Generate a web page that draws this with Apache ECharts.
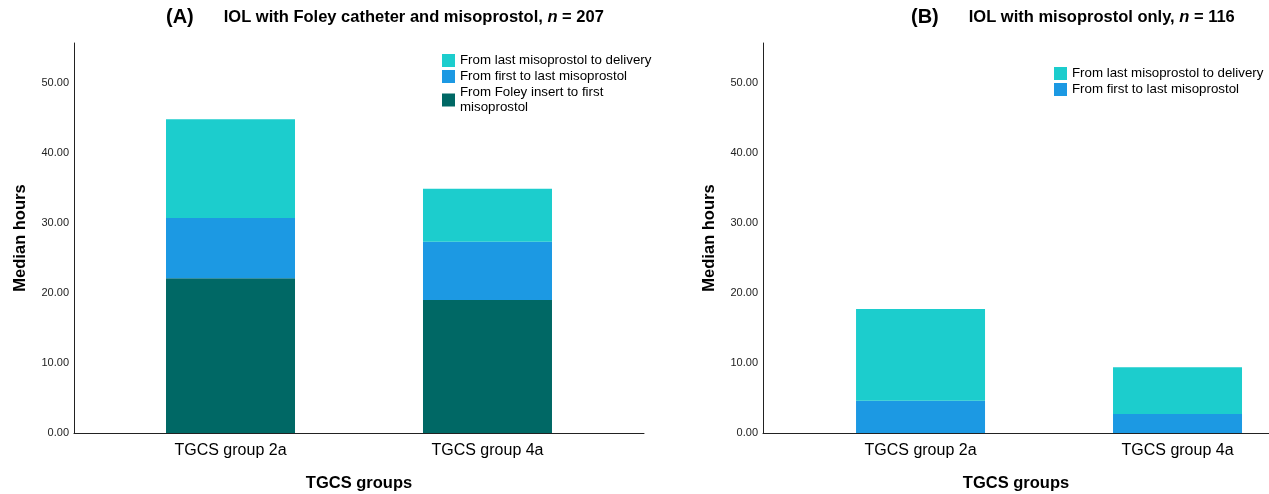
<!DOCTYPE html>
<html>
<head>
<meta charset="utf-8">
<script src="https://cdn.jsdelivr.net/npm/echarts@6/dist/echarts.min.js"></script>
<style>
  html, body { margin: 0; padding: 0; background: #fff; }
  #main { width: 1269px; height: 494px; }
</style>
</head>
<body>
<div id="main"></div>
<script>
// categories
const groups = ['TGCS group 2a', 'TGCS group 4a']
// (A) Foley catheter + misoprostol, median hours per phase
const foleyToFirstA = [22.1, 19.0]
const firstToLastA = [8.6, 8.3]
const lastToDeliveryA = [14.1, 7.6]
// (B) misoprostol only
const firstToLastB = [4.6, 2.7]
const lastToDeliveryB = [13.1, 6.7]
// y tick labels
const yTicks = [0, 10, 20, 30, 40, 50]

const nameLast = 'From last misoprostol to delivery'
const nameFirst = 'From first to last misoprostol'
const nameFoley = 'From Foley insert to first misoprostol'

const font = 'Liberation Sans, Arial, sans-serif'
const cyan = '#1ccdcd'
const blue = '#1c99e3'
const teal = '#006865'

// value first so that the value dimension is the one stacked
const pts = (arr) => arr.map((v, i) => [v, i])

let myChart = echarts.init(document.getElementById('main'))

function xAxisOf(idx, min, max) {
  return {
    gridIndex: idx,
    type: 'value',
    min: min,
    max: max,
    name: 'TGCS groups',
    nameLocation: 'middle',
    nameGap: 42,
    nameTextStyle: { fontFamily: font, fontSize: 16.5, fontWeight: 'bold', color: '#000' },
    axisLine: { show: true, onZero: false, lineStyle: { color: '#222', width: 1 } },
    axisTick: { show: false },
    splitLine: { show: false },
    axisLabel: {
      customValues: [0, 1],
      formatter: (v) => groups[Math.round(v)],
      fontFamily: font,
      fontSize: 16,
      color: '#000',
      margin: 10,
    },
  }
}

function yAxisOf(idx) {
  return {
    gridIndex: idx,
    type: 'value',
    min: 0,
    max: 55.7,
    name: 'Median hours',
    nameLocation: 'middle',
    nameGap: 45,
    nameTextStyle: { fontFamily: font, fontSize: 16.5, fontWeight: 'bold', color: '#000' },
    axisLine: { show: true, onZero: false, lineStyle: { color: '#222', width: 1 } },
    axisTick: { show: false },
    splitLine: { show: false },
    axisLabel: {
      customValues: yTicks,
      formatter: (v) => v.toFixed(2),
      fontFamily: font,
      fontSize: 11,
      color: '#222',
      margin: 5,
    },
  }
}

function bar(name, data, idx, stack, color) {
  return {
    name: name,
    type: 'bar',
    xAxisIndex: idx,
    yAxisIndex: idx,
    stack: stack,
    barWidth: 129,
    encode: { x: 1, y: 0 },
    itemStyle: { color: color },
    emphasis: { disabled: true },
    data: pts(data),
  }
}

const titleRich = {
  a: { fontFamily: font, fontSize: 20, fontWeight: 'bold', color: '#000', padding: [0, 30, 0, 0] },
  b: { fontFamily: font, fontSize: 16.5, fontWeight: 'bold', color: '#000' },
  i: { fontFamily: font, fontSize: 16.5, fontWeight: 'bold', fontStyle: 'italic', color: '#000' },
}

const legendText = { fontFamily: font, fontSize: 13.3, color: '#000', lineHeight: 15 }

let option = {
  animation: false,
  title: [
    {
      left: 166,
      top: 7,
      padding: 0,
      text: '{a|(A)}{b|IOL with Foley catheter and misoprostol, }{i|n}{b| = 207}',
      textStyle: { rich: titleRich },
    },
    {
      left: 911,
      top: 7,
      padding: 0,
      text: '{a|(B)}{b|IOL with misoprostol only, }{i|n}{b| = 116}',
      textStyle: { rich: titleRich },
    },
  ],
  legend: [
    {
      orient: 'vertical',
      left: 442,
      top: 53,
      padding: 0,
      itemWidth: 13,
      itemHeight: 13,
      itemGap: 1,
      icon: 'rect',
      data: [nameLast, nameFirst, nameFoley],
      formatter: (n) => (n === nameFoley ? 'From Foley insert to first\nmisoprostol' : n),
      textStyle: legendText,
      selectedMode: false,
    },
    {
      orient: 'vertical',
      left: 1054,
      top: 66,
      padding: 0,
      itemWidth: 13,
      itemHeight: 13,
      itemGap: 1,
      icon: 'rect',
      data: [nameLast, nameFirst],
      textStyle: legendText,
      selectedMode: false,
    },
  ],
  grid: [
    { left: 74, right: 625, top: 43, bottom: 61, outerBoundsMode: 'none' },
    { left: 763, right: 0, top: 43, bottom: 61, outerBoundsMode: 'none' },
  ],
  xAxis: [xAxisOf(0, -0.609, 1.609), xAxisOf(1, -0.613, 1.356)],
  yAxis: [yAxisOf(0), yAxisOf(1)],
  series: [
    bar(nameFoley, foleyToFirstA, 0, 'A', teal),
    bar(nameFirst, firstToLastA, 0, 'A', blue),
    bar(nameLast, lastToDeliveryA, 0, 'A', cyan),
    bar(nameFirst, firstToLastB, 1, 'B', blue),
    bar(nameLast, lastToDeliveryB, 1, 'B', cyan),
  ],
}

myChart.setOption(option)
window.addEventListener('resize', () => {
  myChart.resize()
})
</script>
</body>
</html>
